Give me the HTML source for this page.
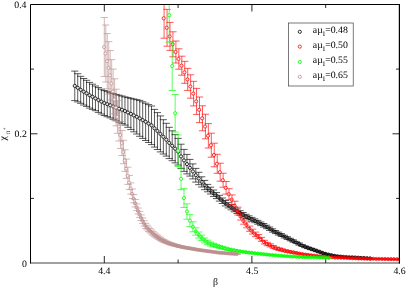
<!DOCTYPE html>
<html><head><meta charset="utf-8"><style>
html,body{margin:0;padding:0;background:#fff;}
svg{display:block}
text{font-family:"Liberation Serif",serif;font-size:9.8px;fill:#000;text-rendering:geometricPrecision}
.t{filter:grayscale(1)}
</style></head><body>
<svg width="407" height="289" viewBox="0 0 407 289">
<rect width="407" height="289" fill="#fff"/>
<defs><clipPath id="c"><rect x="30.5" y="4.5" width="369" height="258.5"/></clipPath></defs>
<g clip-path="url(#c)">
<g stroke="#000" fill="none" stroke-width="0.65">
<path d="M74.78 71.1V100.6M71.18 71.1H78.38M71.18 100.6H78.38M77.73 73.7V101.9M74.13 73.7H81.33M74.13 101.9H81.33M80.68 76.3V103.3M77.08 76.3H84.28M77.08 103.3H84.28M83.64 78.5V105.0M80.04 78.5H87.24M80.04 105.0H87.24M86.59 80.3V106.4M82.99 80.3H90.19M82.99 106.4H90.19M89.54 82.4V108.1M85.94 82.4H93.14M85.94 108.1H93.14M92.49 84.2V109.4M88.89 84.2H96.09M88.89 109.4H96.09M95.44 86.0V110.7M91.84 86.0H99.04M91.84 110.7H99.04M98.40 87.6V112.4M94.80 87.6H102.00M94.80 112.4H102.00M101.35 89.2V114.0M97.75 89.2H104.95M97.75 114.0H104.95M104.30 90.5V115.5M100.70 90.5H107.90M100.70 115.5H107.90M107.25 91.6V116.7M103.65 91.6H110.85M103.65 116.7H110.85M110.20 92.7V117.9M106.60 92.7H113.80M106.60 117.9H113.80M113.16 93.5V119.3M109.56 93.5H116.76M109.56 119.3H116.76M116.11 94.4V120.8M112.51 94.4H119.71M112.51 120.8H119.71M119.06 95.2V122.2M115.46 95.2H122.66M115.46 122.2H122.66M122.01 96.0V123.6M118.41 96.0H125.61M118.41 123.6H125.61M124.96 96.9V125.1M121.36 96.9H128.56M121.36 125.1H128.56M127.92 97.6V127.3M124.32 97.6H131.52M124.32 127.3H131.52M130.87 98.3V129.6M127.27 98.3H134.47M127.27 129.6H134.47M133.82 99.0V131.8M130.22 99.0H137.42M130.22 131.8H137.42M136.77 99.7V134.0M133.17 99.7H140.37M133.17 134.0H140.37M139.72 100.4V136.3M136.12 100.4H143.32M136.12 136.3H143.32M142.68 101.8V138.4M139.08 101.8H146.28M139.08 138.4H146.28M145.63 103.2V140.5M142.03 103.2H149.23M142.03 140.5H149.23M148.58 104.6V142.5M144.98 104.6H152.18M144.98 142.5H152.18M151.53 106.0V144.6M147.93 106.0H155.13M147.93 144.6H155.13M154.48 109.4V147.1M150.88 109.4H158.08M150.88 147.1H158.08M157.44 112.6V149.5M153.84 112.6H161.04M153.84 149.5H161.04M160.39 115.9V151.9M156.79 115.9H163.99M156.79 151.9H163.99M163.34 119.7V154.0M159.74 119.7H166.94M159.74 154.0H166.94M166.29 123.3V156.1M162.69 123.3H169.89M162.69 156.1H169.89M169.24 127.3V158.6M165.64 127.3H172.84M165.64 158.6H172.84M172.20 130.8V160.7M168.60 130.8H175.80M168.60 160.7H175.80M175.15 134.6V162.9M171.55 134.6H178.75M171.55 162.9H178.75M178.10 138.4V165.0M174.50 138.4H181.70M174.50 165.0H181.70M181.05 144.2V168.6M177.45 144.2H184.65M177.45 168.6H184.65M184.00 149.4V171.4M180.40 149.4H187.60M180.40 171.4H187.60M186.96 154.4V173.9M183.36 154.4H190.56M183.36 173.9H190.56M189.91 159.4V176.1M186.31 159.4H193.51M186.31 176.1H193.51M192.86 163.9V178.9M189.26 163.9H196.46M189.26 178.9H196.46M195.81 168.4V182.1M192.21 168.4H199.41M192.21 182.1H199.41M198.76 172.3V184.7M195.16 172.3H202.36M195.16 184.7H202.36M201.72 176.8V187.0M198.12 176.8H205.32M198.12 187.0H205.32M204.67 180.4V189.7M201.07 180.4H208.27M201.07 189.7H208.27M207.62 184.4V191.8M204.02 184.4H211.22M204.02 191.8H211.22M210.57 187.2V194.0M206.97 187.2H214.17M206.97 194.0H214.17M213.52 190.0V196.4M209.92 190.0H217.12M209.92 196.4H217.12M216.48 192.6V198.6M212.88 192.6H220.08M212.88 198.6H220.08M219.43 195.3V201.1M215.83 195.3H223.03M215.83 201.1H223.03M222.38 198.0V203.5M218.78 198.0H225.98M218.78 203.5H225.98M225.33 200.5V205.9M221.73 200.5H228.93M221.73 205.9H228.93M228.28 202.7V207.9M224.68 202.7H231.88M224.68 207.9H231.88M231.24 204.9V209.8M227.64 204.9H234.84M227.64 209.8H234.84M234.19 207.1V211.8M230.59 207.1H237.79M230.59 211.8H237.79M237.14 208.9V213.5M233.54 208.9H240.74M233.54 213.5H240.74M240.09 210.7V215.2M236.49 210.7H243.69M236.49 215.2H243.69M243.04 212.5V216.8M239.44 212.5H246.64M239.44 216.8H246.64M246.00 214.3V218.5M242.40 214.3H249.60M242.40 218.5H249.60M248.95 215.8V219.9M245.35 215.8H252.55M245.35 219.9H252.55M251.90 217.4V221.3M248.30 217.4H255.50M248.30 221.3H255.50M254.85 218.9V222.7M251.25 218.9H258.45M251.25 222.7H258.45M257.80 220.4V224.2M254.20 220.4H261.40M254.20 224.2H261.40M260.76 222.0V225.6M257.16 222.0H264.36M257.16 225.6H264.36M263.71 223.5V227.1M260.11 223.5H267.31M260.11 227.1H267.31M266.66 225.2V228.7M263.06 225.2H270.26M263.06 228.7H270.26M269.61 227.0V230.4M266.01 227.0H273.21M266.01 230.4H273.21M272.56 228.8V232.1M268.96 228.8H276.16M268.96 232.1H276.16M275.52 230.5V233.6M271.92 230.5H279.12M271.92 233.6H279.12M278.47 232.1V235.1M274.87 232.1H282.07M274.87 235.1H282.07M281.42 233.6V236.5M277.82 233.6H285.02M277.82 236.5H285.02M284.37 235.2V238.0M280.77 235.2H287.97M280.77 238.0H287.97M287.32 236.7V239.4M283.72 236.7H290.92M283.72 239.4H290.92M290.28 238.3V240.8M286.68 238.3H293.88M286.68 240.8H293.88M293.23 239.8V242.2M289.63 239.8H296.83M289.63 242.2H296.83M296.18 241.4V243.6M292.58 241.4H299.78M292.58 243.6H299.78M299.13 242.9V245.1M295.53 242.9H302.73M295.53 245.1H302.73M302.08 244.5V246.5M298.48 244.5H305.68M298.48 246.5H305.68M305.04 245.9V247.7M301.44 245.9H308.64M301.44 247.7H308.64M307.99 247.0V248.7M304.39 247.0H311.59M304.39 248.7H311.59M310.94 248.1V249.7M307.34 248.1H314.54M307.34 249.7H314.54M313.89 249.1V250.7M310.29 249.1H317.49M310.29 250.7H317.49M316.84 250.2V251.7M313.24 250.2H320.44M313.24 251.7H320.44M319.80 251.3V252.8M316.20 251.3H323.40M316.20 252.8H323.40M322.75 252.4V253.8M319.15 252.4H326.35M319.15 253.8H326.35M325.70 253.3V254.6M322.10 253.3H329.30M322.10 254.6H329.30M328.65 254.0V255.3M325.05 254.0H332.25M325.05 255.3H332.25M331.60 254.7V255.9M328.00 254.7H335.20M328.00 255.9H335.20M334.56 255.3V256.5M330.96 255.3H338.16M330.96 256.5H338.16M337.51 255.8V256.9M333.91 255.8H341.11M333.91 256.9H341.11M340.46 256.1V257.1M336.86 256.1H344.06M336.86 257.1H344.06M343.41 256.4V257.4M339.81 256.4H347.01M339.81 257.4H347.01M346.36 256.5V257.5M342.76 256.5H349.96M342.76 257.5H349.96M349.32 256.7V257.6M345.72 256.7H352.92M345.72 257.6H352.92M352.27 256.9V257.8M348.67 256.9H355.87M348.67 257.8H355.87M355.22 257.1V258.0M351.62 257.1H358.82M351.62 258.0H358.82M358.17 257.2V258.1M354.57 257.2H361.77M354.57 258.1H361.77M361.12 257.4V258.3M357.52 257.4H364.72M357.52 258.3H364.72M364.08 257.6V258.5M360.48 257.6H367.68M360.48 258.5H367.68M367.03 257.8V258.6M363.43 257.8H370.63M363.43 258.6H370.63M369.98 258.0V258.8M366.38 258.0H373.58M366.38 258.8H373.58"/>
<circle cx="74.78" cy="85.9" r="1.60" fill="#fff" fill-opacity="0.80" stroke-width="0.8"/>
<circle cx="77.73" cy="87.8" r="1.60" fill="#fff" fill-opacity="0.80" stroke-width="0.8"/>
<circle cx="80.68" cy="89.8" r="1.60" fill="#fff" fill-opacity="0.80" stroke-width="0.8"/>
<circle cx="83.64" cy="91.7" r="1.60" fill="#fff" fill-opacity="0.80" stroke-width="0.8"/>
<circle cx="86.59" cy="93.3" r="1.60" fill="#fff" fill-opacity="0.80" stroke-width="0.8"/>
<circle cx="89.54" cy="95.2" r="1.60" fill="#fff" fill-opacity="0.80" stroke-width="0.8"/>
<circle cx="92.49" cy="96.8" r="1.60" fill="#fff" fill-opacity="0.80" stroke-width="0.8"/>
<circle cx="95.44" cy="98.4" r="1.60" fill="#fff" fill-opacity="0.80" stroke-width="0.8"/>
<circle cx="98.40" cy="100.0" r="1.60" fill="#fff" fill-opacity="0.80" stroke-width="0.8"/>
<circle cx="101.35" cy="101.6" r="1.60" fill="#fff" fill-opacity="0.80" stroke-width="0.8"/>
<circle cx="104.30" cy="103.0" r="1.60" fill="#fff" fill-opacity="0.80" stroke-width="0.8"/>
<circle cx="107.25" cy="104.1" r="1.60" fill="#fff" fill-opacity="0.80" stroke-width="0.8"/>
<circle cx="110.20" cy="105.3" r="1.60" fill="#fff" fill-opacity="0.80" stroke-width="0.8"/>
<circle cx="113.16" cy="106.4" r="1.60" fill="#fff" fill-opacity="0.80" stroke-width="0.8"/>
<circle cx="116.11" cy="107.6" r="1.60" fill="#fff" fill-opacity="0.80" stroke-width="0.8"/>
<circle cx="119.06" cy="108.7" r="1.60" fill="#fff" fill-opacity="0.80" stroke-width="0.8"/>
<circle cx="122.01" cy="109.8" r="1.60" fill="#fff" fill-opacity="0.80" stroke-width="0.8"/>
<circle cx="124.96" cy="111.0" r="1.60" fill="#fff" fill-opacity="0.80" stroke-width="0.8"/>
<circle cx="127.92" cy="112.5" r="1.60" fill="#fff" fill-opacity="0.80" stroke-width="0.8"/>
<circle cx="130.87" cy="113.9" r="1.60" fill="#fff" fill-opacity="0.80" stroke-width="0.8"/>
<circle cx="133.82" cy="115.4" r="1.60" fill="#fff" fill-opacity="0.80" stroke-width="0.8"/>
<circle cx="136.77" cy="116.9" r="1.60" fill="#fff" fill-opacity="0.80" stroke-width="0.8"/>
<circle cx="139.72" cy="118.4" r="1.60" fill="#fff" fill-opacity="0.80" stroke-width="0.8"/>
<circle cx="142.68" cy="120.1" r="1.60" fill="#fff" fill-opacity="0.80" stroke-width="0.8"/>
<circle cx="145.63" cy="121.8" r="1.60" fill="#fff" fill-opacity="0.80" stroke-width="0.8"/>
<circle cx="148.58" cy="123.6" r="1.60" fill="#fff" fill-opacity="0.80" stroke-width="0.8"/>
<circle cx="151.53" cy="125.3" r="1.60" fill="#fff" fill-opacity="0.80" stroke-width="0.8"/>
<circle cx="154.48" cy="128.3" r="1.60" fill="#fff" fill-opacity="0.80" stroke-width="0.8"/>
<circle cx="157.44" cy="131.0" r="1.60" fill="#fff" fill-opacity="0.80" stroke-width="0.8"/>
<circle cx="160.39" cy="133.9" r="1.60" fill="#fff" fill-opacity="0.80" stroke-width="0.8"/>
<circle cx="163.34" cy="136.8" r="1.60" fill="#fff" fill-opacity="0.80" stroke-width="0.8"/>
<circle cx="166.29" cy="139.7" r="1.60" fill="#fff" fill-opacity="0.80" stroke-width="0.8"/>
<circle cx="169.24" cy="142.9" r="1.60" fill="#fff" fill-opacity="0.80" stroke-width="0.8"/>
<circle cx="172.20" cy="145.8" r="1.60" fill="#fff" fill-opacity="0.80" stroke-width="0.8"/>
<circle cx="175.15" cy="148.7" r="1.60" fill="#fff" fill-opacity="0.80" stroke-width="0.8"/>
<circle cx="178.10" cy="151.7" r="1.60" fill="#fff" fill-opacity="0.80" stroke-width="0.8"/>
<circle cx="181.05" cy="156.4" r="1.60" fill="#fff" fill-opacity="0.80" stroke-width="0.8"/>
<circle cx="184.00" cy="160.4" r="1.60" fill="#fff" fill-opacity="0.80" stroke-width="0.8"/>
<circle cx="186.96" cy="164.1" r="1.60" fill="#fff" fill-opacity="0.80" stroke-width="0.8"/>
<circle cx="189.91" cy="167.8" r="1.60" fill="#fff" fill-opacity="0.80" stroke-width="0.8"/>
<circle cx="192.86" cy="171.4" r="1.60" fill="#fff" fill-opacity="0.80" stroke-width="0.8"/>
<circle cx="195.81" cy="175.2" r="1.60" fill="#fff" fill-opacity="0.80" stroke-width="0.8"/>
<circle cx="198.76" cy="178.5" r="1.60" fill="#fff" fill-opacity="0.71" stroke-width="0.8"/>
<circle cx="201.72" cy="181.9" r="1.60" fill="#fff" fill-opacity="0.42" stroke-width="0.8"/>
<circle cx="204.67" cy="185.1" r="1.60" fill="#fff" fill-opacity="0.31" stroke-width="0.8"/>
<circle cx="207.62" cy="188.1" r="1.60" fill="#fff" fill-opacity="0.05" stroke-width="0.8"/>
<circle cx="210.57" cy="190.6" r="1.60" stroke-width="0.8"/>
<circle cx="213.52" cy="193.2" r="1.60" stroke-width="0.8"/>
<circle cx="216.48" cy="195.6" r="1.60" stroke-width="0.8"/>
<circle cx="219.43" cy="198.2" r="1.60" stroke-width="0.8"/>
<circle cx="222.38" cy="200.8" r="1.60" stroke-width="0.8"/>
<circle cx="225.33" cy="203.2" r="1.60" stroke-width="0.8"/>
<circle cx="228.28" cy="205.3" r="1.60" stroke-width="0.8"/>
<circle cx="231.24" cy="207.4" r="1.60" stroke-width="0.8"/>
<circle cx="234.19" cy="209.5" r="1.60" stroke-width="0.8"/>
<circle cx="237.14" cy="211.2" r="1.60" stroke-width="0.8"/>
<circle cx="240.09" cy="212.9" r="1.60" stroke-width="0.8"/>
<circle cx="243.04" cy="214.7" r="1.60" stroke-width="0.8"/>
<circle cx="246.00" cy="216.4" r="1.60" stroke-width="0.8"/>
<circle cx="248.95" cy="217.9" r="1.60" stroke-width="0.8"/>
<circle cx="251.90" cy="219.4" r="1.60" stroke-width="0.8"/>
<circle cx="254.85" cy="220.8" r="1.60" stroke-width="0.8"/>
<circle cx="257.80" cy="222.3" r="1.60" stroke-width="0.8"/>
<circle cx="260.76" cy="223.8" r="1.60" stroke-width="0.8"/>
<circle cx="263.71" cy="225.3" r="1.60" stroke-width="0.8"/>
<circle cx="266.66" cy="227.0" r="1.60" stroke-width="0.8"/>
<circle cx="269.61" cy="228.7" r="1.60" stroke-width="0.8"/>
<circle cx="272.56" cy="230.5" r="1.60" stroke-width="0.8"/>
<circle cx="275.52" cy="232.1" r="1.60" stroke-width="0.8"/>
<circle cx="278.47" cy="233.6" r="1.60" stroke-width="0.8"/>
<circle cx="281.42" cy="235.1" r="1.60" stroke-width="0.8"/>
<circle cx="284.37" cy="236.6" r="1.60" stroke-width="0.8"/>
<circle cx="287.32" cy="238.1" r="1.60" stroke-width="0.8"/>
<circle cx="290.28" cy="239.6" r="1.60" stroke-width="0.8"/>
<circle cx="293.23" cy="241.0" r="1.60" stroke-width="0.8"/>
<circle cx="296.18" cy="242.5" r="1.60" stroke-width="0.8"/>
<circle cx="299.13" cy="244.0" r="1.60" stroke-width="0.8"/>
<circle cx="302.08" cy="245.5" r="1.60" stroke-width="0.8"/>
<circle cx="305.04" cy="246.8" r="1.60" stroke-width="0.8"/>
<circle cx="307.99" cy="247.9" r="1.60" stroke-width="0.8"/>
<circle cx="310.94" cy="248.9" r="1.60" stroke-width="0.8"/>
<circle cx="313.89" cy="249.9" r="1.60" stroke-width="0.8"/>
<circle cx="316.84" cy="251.0" r="1.60" stroke-width="0.8"/>
<circle cx="319.80" cy="252.0" r="1.60" stroke-width="0.8"/>
<circle cx="322.75" cy="253.1" r="1.60" stroke-width="0.8"/>
<circle cx="325.70" cy="254.0" r="1.60" stroke-width="0.8"/>
<circle cx="328.65" cy="254.7" r="1.60" stroke-width="0.8"/>
<circle cx="331.60" cy="255.3" r="1.60" stroke-width="0.8"/>
<circle cx="334.56" cy="255.9" r="1.60" stroke-width="0.8"/>
<circle cx="337.51" cy="256.3" r="1.60" stroke-width="0.8"/>
<circle cx="340.46" cy="256.6" r="1.60" stroke-width="0.8"/>
<circle cx="343.41" cy="256.9" r="1.60" stroke-width="0.8"/>
<circle cx="346.36" cy="257.0" r="1.60" stroke-width="0.8"/>
<circle cx="349.32" cy="257.2" r="1.60" stroke-width="0.8"/>
<circle cx="352.27" cy="257.3" r="1.60" stroke-width="0.8"/>
<circle cx="355.22" cy="257.5" r="1.60" stroke-width="0.8"/>
<circle cx="358.17" cy="257.7" r="1.60" stroke-width="0.8"/>
<circle cx="361.12" cy="257.9" r="1.60" stroke-width="0.8"/>
<circle cx="364.08" cy="258.0" r="1.60" stroke-width="0.8"/>
<circle cx="367.03" cy="258.2" r="1.60" stroke-width="0.8"/>
<circle cx="369.98" cy="258.4" r="1.60" stroke-width="0.8"/>
</g>
<g stroke="#f00" fill="none" stroke-width="0.65">
<path d="M164.09 -1.6V38.2M160.49 -1.6H167.69M160.49 38.2H167.69M167.04 9.4V46.2M163.44 9.4H170.64M163.44 46.2H170.64M169.99 22.4V50.4M166.39 22.4H173.59M166.39 50.4H173.59M172.95 31.8V56.8M169.35 31.8H176.55M169.35 56.8H176.55M175.90 41.0V63.0M172.30 41.0H179.50M172.30 63.0H179.50M178.85 48.8V69.2M175.25 48.8H182.45M175.25 69.2H182.45M181.80 56.2V75.2M178.20 56.2H185.40M178.20 75.2H185.40M184.75 61.3V83.3M181.15 61.3H188.35M181.15 83.3H188.35M187.71 68.4V90.4M184.11 68.4H191.31M184.11 90.4H191.31M190.66 74.8V98.2M187.06 74.8H194.26M187.06 98.2H194.26M193.61 81.3V105.9M190.01 81.3H197.21M190.01 105.9H197.21M196.56 88.4V114.4M192.96 88.4H200.16M192.96 114.4H200.16M199.51 97.0V122.6M195.91 97.0H203.11M195.91 122.6H203.11M202.47 105.8V130.8M198.87 105.8H206.07M198.87 130.8H206.07M205.42 114.2V138.8M201.82 114.2H209.02M201.82 138.8H209.02M208.37 123.6V148.0M204.77 123.6H211.97M204.77 148.0H211.97M211.32 133.2V157.2M207.72 133.2H214.92M207.72 157.2H214.92M214.27 143.2V166.8M210.67 143.2H217.87M210.67 166.8H217.87M217.23 154.3V173.3M213.63 154.3H220.83M213.63 173.3H220.83M220.18 163.2V181.2M216.58 163.2H223.78M216.58 181.2H223.78M223.13 173.2V187.2M219.53 173.2H226.73M219.53 187.2H226.73M226.08 181.5V194.1M222.48 181.5H229.68M222.48 194.1H229.68M229.03 188.7V199.7M225.43 188.7H232.63M225.43 199.7H232.63M231.99 194.9V204.5M228.39 194.9H235.59M228.39 204.5H235.59M234.94 201.2V210.0M231.34 201.2H238.54M231.34 210.0H238.54M237.89 207.2V215.0M234.29 207.2H241.49M234.29 215.0H241.49M240.84 213.0V220.0M237.24 213.0H244.44M237.24 220.0H244.44M243.79 217.8V224.2M240.19 217.8H247.39M240.19 224.2H247.39M246.75 222.0V227.8M243.15 222.0H250.35M243.15 227.8H250.35M249.70 226.1V231.3M246.10 226.1H253.30M246.10 231.3H253.30M252.65 229.2V234.0M249.05 229.2H256.25M249.05 234.0H256.25M255.60 232.1V236.7M252.00 232.1H259.20M252.00 236.7H259.20M258.55 234.5V238.7M254.95 234.5H262.15M254.95 238.7H262.15M261.51 237.4V241.3M257.91 237.4H265.11M257.91 241.3H265.11M264.46 240.3V244.0M260.86 240.3H268.06M260.86 244.0H268.06M267.41 242.3V245.7M263.81 242.3H271.01M263.81 245.7H271.01M270.36 243.8V246.9M266.76 243.8H273.96M266.76 246.9H273.96M273.31 245.5V248.3M269.71 245.5H276.91M269.71 248.3H276.91M276.27 247.0V249.6M272.67 247.0H279.87M272.67 249.6H279.87M279.22 247.9V250.3M275.62 247.9H282.82M275.62 250.3H282.82M282.17 248.9V251.0M278.57 248.9H285.77M278.57 251.0H285.77M285.12 249.8V251.8M281.52 249.8H288.72M281.52 251.8H288.72M288.07 250.5V252.3M284.47 250.5H291.67M284.47 252.3H291.67M291.03 251.1V252.8M287.43 251.1H294.63M287.43 252.8H294.63M293.98 251.8V253.3M290.38 251.8H297.58M290.38 253.3H297.58M296.93 252.4V253.8M293.33 252.4H300.53M293.33 253.8H300.53M299.88 253.1V254.3M296.28 253.1H303.48M296.28 254.3H303.48M302.83 253.6V254.8M299.23 253.6H306.43M299.23 254.8H306.43M305.79 254.0V255.2M302.19 254.0H309.39M302.19 255.2H309.39M308.74 254.4V255.6M305.14 254.4H312.34M305.14 255.6H312.34M311.69 254.8V256.0M308.09 254.8H315.29M308.09 256.0H315.29M314.64 255.2V256.3M311.04 255.2H318.24M311.04 256.3H318.24M317.59 255.6V256.7M313.99 255.6H321.19M313.99 256.7H321.19M320.55 255.9V257.1M316.95 255.9H324.15M316.95 257.1H324.15M323.50 256.3V257.4M319.90 256.3H327.10M319.90 257.4H327.10M326.45 256.5V257.6M322.85 256.5H330.05M322.85 257.6H330.05M329.40 256.7V257.7M325.80 256.7H333.00M325.80 257.7H333.00M332.35 256.8V257.9M328.75 256.8H335.95M328.75 257.9H335.95M335.31 256.9V258.0M331.71 256.9H338.91M331.71 258.0H338.91M338.26 257.1V258.1M334.66 257.1H341.86M334.66 258.1H341.86M341.21 257.2V258.2M337.61 257.2H344.81M337.61 258.2H344.81M344.16 257.3V258.3M340.56 257.3H347.76M340.56 258.3H347.76M347.11 257.4V258.5M343.51 257.4H350.71M343.51 258.5H350.71M350.07 257.6V258.6M346.47 257.6H353.67M346.47 258.6H353.67M353.02 257.7V258.7M349.42 257.7H356.62M349.42 258.7H356.62M355.97 257.8V258.8M352.37 257.8H359.57M352.37 258.8H359.57M358.92 257.9V258.9M355.32 257.9H362.52M355.32 258.9H362.52M361.87 258.0V259.0M358.27 258.0H365.47M358.27 259.0H365.47M364.83 258.1V259.1M361.23 258.1H368.43M361.23 259.1H368.43M367.78 258.2V259.2M364.18 258.2H371.38M364.18 259.2H371.38M370.73 258.3V259.3M367.13 258.3H374.33M367.13 259.3H374.33M373.68 258.4V259.3M370.08 258.4H377.28M370.08 259.3H377.28M376.63 258.5V259.3M373.03 258.5H380.23M373.03 259.3H380.23M379.59 258.5V259.4M375.99 258.5H383.19M375.99 259.4H383.19M382.54 258.6V259.4M378.94 258.6H386.14M378.94 259.4H386.14M385.49 258.6V259.5M381.89 258.6H389.09M381.89 259.5H389.09M388.44 258.7V259.5M384.84 258.7H392.04M384.84 259.5H392.04M391.39 258.7V259.6M387.79 258.7H394.99M387.79 259.6H394.99M394.35 258.8V259.6M390.75 258.8H397.95M390.75 259.6H397.95M397.30 258.8V259.7M393.70 258.8H400.90M393.70 259.7H400.90M400.25 258.9V259.7M396.65 258.9H403.85M396.65 259.7H403.85"/>
<circle cx="163.74" cy="18.3" r="1.60" fill="#fff" fill-opacity="0.80" stroke-width="0.8"/>
<circle cx="166.69" cy="27.8" r="1.60" fill="#fff" fill-opacity="0.80" stroke-width="0.8"/>
<circle cx="169.64" cy="36.4" r="1.60" fill="#fff" fill-opacity="0.80" stroke-width="0.8"/>
<circle cx="172.60" cy="44.3" r="1.60" fill="#fff" fill-opacity="0.80" stroke-width="0.8"/>
<circle cx="175.55" cy="52.0" r="1.60" fill="#fff" fill-opacity="0.80" stroke-width="0.8"/>
<circle cx="178.50" cy="59.0" r="1.60" fill="#fff" fill-opacity="0.80" stroke-width="0.8"/>
<circle cx="181.45" cy="65.7" r="1.60" fill="#fff" fill-opacity="0.80" stroke-width="0.8"/>
<circle cx="184.40" cy="72.3" r="1.60" fill="#fff" fill-opacity="0.80" stroke-width="0.8"/>
<circle cx="187.36" cy="79.4" r="1.60" fill="#fff" fill-opacity="0.80" stroke-width="0.8"/>
<circle cx="190.31" cy="86.5" r="1.60" fill="#fff" fill-opacity="0.80" stroke-width="0.8"/>
<circle cx="193.26" cy="93.6" r="1.60" fill="#fff" fill-opacity="0.80" stroke-width="0.8"/>
<circle cx="196.21" cy="101.4" r="1.60" fill="#fff" fill-opacity="0.80" stroke-width="0.8"/>
<circle cx="199.16" cy="109.8" r="1.60" fill="#fff" fill-opacity="0.80" stroke-width="0.8"/>
<circle cx="202.12" cy="118.3" r="1.60" fill="#fff" fill-opacity="0.80" stroke-width="0.8"/>
<circle cx="205.07" cy="126.5" r="1.60" fill="#fff" fill-opacity="0.80" stroke-width="0.8"/>
<circle cx="208.02" cy="135.8" r="1.60" fill="#fff" fill-opacity="0.80" stroke-width="0.8"/>
<circle cx="210.97" cy="145.2" r="1.60" fill="#fff" fill-opacity="0.80" stroke-width="0.8"/>
<circle cx="213.92" cy="155.0" r="1.60" fill="#fff" fill-opacity="0.80" stroke-width="0.8"/>
<circle cx="216.88" cy="163.8" r="1.60" fill="#fff" fill-opacity="0.80" stroke-width="0.8"/>
<circle cx="219.83" cy="172.2" r="1.60" fill="#fff" fill-opacity="0.80" stroke-width="0.8"/>
<circle cx="222.78" cy="180.2" r="1.60" fill="#fff" fill-opacity="0.80" stroke-width="0.8"/>
<circle cx="225.73" cy="187.8" r="1.60" fill="#fff" fill-opacity="0.76" stroke-width="0.8"/>
<circle cx="228.68" cy="194.2" r="1.60" fill="#fff" fill-opacity="0.53" stroke-width="0.8"/>
<circle cx="231.64" cy="199.7" r="1.60" fill="#fff" fill-opacity="0.35" stroke-width="0.8"/>
<circle cx="234.59" cy="205.6" r="1.60" fill="#fff" fill-opacity="0.23" stroke-width="0.8"/>
<circle cx="237.54" cy="211.1" r="1.60" fill="#fff" fill-opacity="0.11" stroke-width="0.8"/>
<circle cx="240.49" cy="216.5" r="1.60" stroke-width="0.8"/>
<circle cx="243.44" cy="221.0" r="1.60" stroke-width="0.8"/>
<circle cx="246.40" cy="224.9" r="1.60" stroke-width="0.8"/>
<circle cx="249.35" cy="228.7" r="1.60" stroke-width="0.8"/>
<circle cx="252.30" cy="231.6" r="1.60" stroke-width="0.8"/>
<circle cx="255.25" cy="234.4" r="1.60" stroke-width="0.8"/>
<circle cx="258.20" cy="236.6" r="1.60" stroke-width="0.8"/>
<circle cx="261.16" cy="239.4" r="1.60" stroke-width="0.8"/>
<circle cx="264.11" cy="242.2" r="1.60" stroke-width="0.8"/>
<circle cx="267.06" cy="244.0" r="1.60" stroke-width="0.8"/>
<circle cx="270.01" cy="245.3" r="1.60" stroke-width="0.8"/>
<circle cx="272.96" cy="246.9" r="1.60" stroke-width="0.8"/>
<circle cx="275.92" cy="248.3" r="1.60" stroke-width="0.8"/>
<circle cx="278.87" cy="249.1" r="1.60" stroke-width="0.8"/>
<circle cx="281.82" cy="249.9" r="1.60" stroke-width="0.8"/>
<circle cx="284.77" cy="250.8" r="1.60" stroke-width="0.8"/>
<circle cx="287.72" cy="251.4" r="1.60" stroke-width="0.8"/>
<circle cx="290.68" cy="252.0" r="1.60" stroke-width="0.8"/>
<circle cx="293.63" cy="252.6" r="1.60" stroke-width="0.8"/>
<circle cx="296.58" cy="253.1" r="1.60" stroke-width="0.8"/>
<circle cx="299.53" cy="253.7" r="1.60" stroke-width="0.8"/>
<circle cx="302.48" cy="254.2" r="1.60" stroke-width="0.8"/>
<circle cx="305.44" cy="254.6" r="1.60" stroke-width="0.8"/>
<circle cx="308.39" cy="255.0" r="1.60" stroke-width="0.8"/>
<circle cx="311.34" cy="255.4" r="1.60" stroke-width="0.8"/>
<circle cx="314.29" cy="255.7" r="1.60" stroke-width="0.8"/>
<circle cx="317.24" cy="256.1" r="1.60" stroke-width="0.8"/>
<circle cx="320.20" cy="256.5" r="1.60" stroke-width="0.8"/>
<circle cx="323.15" cy="256.9" r="1.60" stroke-width="0.8"/>
<circle cx="326.10" cy="257.1" r="1.60" stroke-width="0.8"/>
<circle cx="329.05" cy="257.2" r="1.60" stroke-width="0.8"/>
<circle cx="332.00" cy="257.3" r="1.60" stroke-width="0.8"/>
<circle cx="334.96" cy="257.5" r="1.60" stroke-width="0.8"/>
<circle cx="337.91" cy="257.6" r="1.60" stroke-width="0.8"/>
<circle cx="340.86" cy="257.7" r="1.60" stroke-width="0.8"/>
<circle cx="343.81" cy="257.8" r="1.60" stroke-width="0.8"/>
<circle cx="346.76" cy="257.9" r="1.60" stroke-width="0.8"/>
<circle cx="349.72" cy="258.1" r="1.60" stroke-width="0.8"/>
<circle cx="352.67" cy="258.2" r="1.60" stroke-width="0.8"/>
<circle cx="355.62" cy="258.3" r="1.60" stroke-width="0.8"/>
<circle cx="358.57" cy="258.4" r="1.60" stroke-width="0.8"/>
<circle cx="361.52" cy="258.5" r="1.60" stroke-width="0.8"/>
<circle cx="364.48" cy="258.6" r="1.60" stroke-width="0.8"/>
<circle cx="367.43" cy="258.7" r="1.60" stroke-width="0.8"/>
<circle cx="370.38" cy="258.8" r="1.60" stroke-width="0.8"/>
<circle cx="373.33" cy="258.8" r="1.60" stroke-width="0.8"/>
<circle cx="376.28" cy="258.9" r="1.60" stroke-width="0.8"/>
<circle cx="379.24" cy="258.9" r="1.60" stroke-width="0.8"/>
<circle cx="382.19" cy="259.0" r="1.60" stroke-width="0.8"/>
<circle cx="385.14" cy="259.0" r="1.60" stroke-width="0.8"/>
<circle cx="388.09" cy="259.1" r="1.60" stroke-width="0.8"/>
<circle cx="391.04" cy="259.1" r="1.60" stroke-width="0.8"/>
<circle cx="394.00" cy="259.2" r="1.60" stroke-width="0.8"/>
<circle cx="396.95" cy="259.2" r="1.60" stroke-width="0.8"/>
<circle cx="399.90" cy="259.3" r="1.60" stroke-width="0.8"/>
</g>
<g stroke="#0f0" fill="none" stroke-width="0.65">
<path d="M169.24 -11.8V42.2M165.64 -11.8H172.84M165.64 42.2H172.84M172.20 41.5V90.5M168.60 41.5H175.80M168.60 90.5H175.80M175.15 94.5V132.1M171.55 94.5H178.75M171.55 132.1H178.75M178.10 134.9V166.5M174.50 134.9H181.70M174.50 166.5H181.70M181.05 167.9V189.7M177.45 167.9H184.65M177.45 189.7H184.65M184.00 188.7V207.5M180.40 188.7H187.60M180.40 207.5H187.60M186.96 203.8V219.2M183.36 203.8H190.56M183.36 219.2H190.56M189.91 214.7V226.7M186.31 214.7H193.51M186.31 226.7H193.51M192.86 221.8V231.8M189.26 221.8H196.46M189.26 231.8H196.46M195.81 227.8V235.2M192.21 227.8H199.41M192.21 235.2H199.41M198.76 232.0V238.0M195.16 232.0H202.36M195.16 238.0H202.36M201.72 235.2V240.6M198.12 235.2H205.32M198.12 240.6H205.32M204.67 238.0V242.9M201.07 238.0H208.27M201.07 242.9H208.27M207.62 240.2V244.6M204.02 240.2H211.22M204.02 244.6H211.22M210.57 242.1V246.0M206.97 242.1H214.17M206.97 246.0H214.17M213.52 243.2V246.8M209.92 243.2H217.12M209.92 246.8H217.12M216.48 244.3V247.6M212.88 244.3H220.08M212.88 247.6H220.08M219.43 245.4V248.3M215.83 245.4H223.03M215.83 248.3H223.03M222.38 246.3V249.0M218.78 246.3H225.98M218.78 249.0H225.98M225.33 247.2V249.7M221.73 247.2H228.93M221.73 249.7H228.93M228.28 248.1V250.4M224.68 248.1H231.88M224.68 250.4H231.88M231.24 248.9V251.0M227.64 248.9H234.84M227.64 251.0H234.84M234.19 249.5V251.3M230.59 249.5H237.79M230.59 251.3H237.79M237.14 250.1V251.7M233.54 250.1H240.74M233.54 251.7H240.74M240.09 250.7V252.1M236.49 250.7H243.69M236.49 252.1H243.69M243.04 251.1V252.5M239.44 251.1H246.64M239.44 252.5H246.64M246.00 251.5V252.9M242.40 251.5H249.60M242.40 252.9H249.60M248.95 251.9V253.3M245.35 251.9H252.55M245.35 253.3H252.55M251.90 252.3V253.6M248.30 252.3H255.50M248.30 253.6H255.50M254.85 252.6V253.9M251.25 252.6H258.45M251.25 253.9H258.45M257.80 253.0V254.2M254.20 253.0H261.40M254.20 254.2H261.40M260.76 253.3V254.5M257.16 253.3H264.36M257.16 254.5H264.36M263.71 253.6V254.8M260.11 253.6H267.31M260.11 254.8H267.31M266.66 253.9V255.2M263.06 253.9H270.26M263.06 255.2H270.26M269.61 254.3V255.5M266.01 254.3H273.21M266.01 255.5H273.21M272.56 254.5V255.7M268.96 254.5H276.16M268.96 255.7H276.16M275.52 254.8V255.9M271.92 254.8H279.12M271.92 255.9H279.12M278.47 255.0V256.1M274.87 255.0H282.07M274.87 256.1H282.07M281.42 255.3V256.4M277.82 255.3H285.02M277.82 256.4H285.02M284.37 255.5V256.6M280.77 255.5H287.97M280.77 256.6H287.97M287.32 255.7V256.8M283.72 255.7H290.92M283.72 256.8H290.92M290.28 255.9V256.9M286.68 255.9H293.88M286.68 256.9H293.88M293.23 256.0V257.1M289.63 256.0H296.83M289.63 257.1H296.83M296.18 256.2V257.3M292.58 256.2H299.78M292.58 257.3H299.78M299.13 256.4V257.4M295.53 256.4H302.73M295.53 257.4H302.73M302.08 256.5V257.5M298.48 256.5H305.68M298.48 257.5H305.68M305.04 256.6V257.6M301.44 256.6H308.64M301.44 257.6H308.64M307.99 256.7V257.7M304.39 256.7H311.59M304.39 257.7H311.59M310.94 256.8V257.7M307.34 256.8H314.54M307.34 257.7H314.54M313.89 256.9V257.8M310.29 256.9H317.49M310.29 257.8H317.49M316.84 257.0V257.9M313.24 257.0H320.44M313.24 257.9H320.44M319.80 257.1V258.0M316.20 257.1H323.40M316.20 258.0H323.40M322.75 257.2V258.1M319.15 257.2H326.35M319.15 258.1H326.35M325.70 257.3V258.2M322.10 257.3H329.30M322.10 258.2H329.30M328.65 257.5V258.3M325.05 257.5H332.25M325.05 258.3H332.25"/>
<circle cx="169.24" cy="15.2" r="1.60" fill="#fff" fill-opacity="0.80" stroke-width="0.8"/>
<circle cx="172.20" cy="66.0" r="1.60" fill="#fff" fill-opacity="0.80" stroke-width="0.8"/>
<circle cx="175.15" cy="113.3" r="1.60" fill="#fff" fill-opacity="0.80" stroke-width="0.8"/>
<circle cx="178.10" cy="150.7" r="1.60" fill="#fff" fill-opacity="0.80" stroke-width="0.8"/>
<circle cx="181.05" cy="178.8" r="1.60" fill="#fff" fill-opacity="0.80" stroke-width="0.8"/>
<circle cx="184.00" cy="198.1" r="1.60" fill="#fff" fill-opacity="0.80" stroke-width="0.8"/>
<circle cx="186.96" cy="211.5" r="1.60" fill="#fff" fill-opacity="0.80" stroke-width="0.8"/>
<circle cx="189.91" cy="220.7" r="1.60" fill="#fff" fill-opacity="0.67" stroke-width="0.8"/>
<circle cx="192.86" cy="226.8" r="1.60" fill="#fff" fill-opacity="0.39" stroke-width="0.8"/>
<circle cx="195.81" cy="231.5" r="1.60" fill="#fff" fill-opacity="0.05" stroke-width="0.8"/>
<circle cx="198.76" cy="235.0" r="1.60" stroke-width="0.8"/>
<circle cx="201.72" cy="237.9" r="1.60" stroke-width="0.8"/>
<circle cx="204.67" cy="240.4" r="1.60" stroke-width="0.8"/>
<circle cx="207.62" cy="242.4" r="1.60" stroke-width="0.8"/>
<circle cx="210.57" cy="244.0" r="1.60" stroke-width="0.8"/>
<circle cx="213.52" cy="245.0" r="1.60" stroke-width="0.8"/>
<circle cx="216.48" cy="245.9" r="1.60" stroke-width="0.8"/>
<circle cx="219.43" cy="246.9" r="1.60" stroke-width="0.8"/>
<circle cx="222.38" cy="247.7" r="1.60" stroke-width="0.8"/>
<circle cx="225.33" cy="248.5" r="1.60" stroke-width="0.8"/>
<circle cx="228.28" cy="249.3" r="1.60" stroke-width="0.8"/>
<circle cx="231.24" cy="250.0" r="1.60" stroke-width="0.8"/>
<circle cx="234.19" cy="250.4" r="1.60" stroke-width="0.8"/>
<circle cx="237.14" cy="250.9" r="1.60" stroke-width="0.8"/>
<circle cx="240.09" cy="251.4" r="1.60" stroke-width="0.8"/>
<circle cx="243.04" cy="251.8" r="1.60" stroke-width="0.8"/>
<circle cx="246.00" cy="252.2" r="1.60" stroke-width="0.8"/>
<circle cx="248.95" cy="252.6" r="1.60" stroke-width="0.8"/>
<circle cx="251.90" cy="252.9" r="1.60" stroke-width="0.8"/>
<circle cx="254.85" cy="253.3" r="1.60" stroke-width="0.8"/>
<circle cx="257.80" cy="253.6" r="1.60" stroke-width="0.8"/>
<circle cx="260.76" cy="253.9" r="1.60" stroke-width="0.8"/>
<circle cx="263.71" cy="254.2" r="1.60" stroke-width="0.8"/>
<circle cx="266.66" cy="254.5" r="1.60" stroke-width="0.8"/>
<circle cx="269.61" cy="254.9" r="1.60" stroke-width="0.8"/>
<circle cx="272.56" cy="255.1" r="1.60" stroke-width="0.8"/>
<circle cx="275.52" cy="255.3" r="1.60" stroke-width="0.8"/>
<circle cx="278.47" cy="255.6" r="1.60" stroke-width="0.8"/>
<circle cx="281.42" cy="255.8" r="1.60" stroke-width="0.8"/>
<circle cx="284.37" cy="256.0" r="1.60" stroke-width="0.8"/>
<circle cx="287.32" cy="256.2" r="1.60" stroke-width="0.8"/>
<circle cx="290.28" cy="256.4" r="1.60" stroke-width="0.8"/>
<circle cx="293.23" cy="256.6" r="1.60" stroke-width="0.8"/>
<circle cx="296.18" cy="256.7" r="1.60" stroke-width="0.8"/>
<circle cx="299.13" cy="256.9" r="1.60" stroke-width="0.8"/>
<circle cx="302.08" cy="257.0" r="1.60" stroke-width="0.8"/>
<circle cx="305.04" cy="257.1" r="1.60" stroke-width="0.8"/>
<circle cx="307.99" cy="257.2" r="1.60" stroke-width="0.8"/>
<circle cx="310.94" cy="257.3" r="1.60" stroke-width="0.8"/>
<circle cx="313.89" cy="257.4" r="1.60" stroke-width="0.8"/>
<circle cx="316.84" cy="257.5" r="1.60" stroke-width="0.8"/>
<circle cx="319.80" cy="257.6" r="1.60" stroke-width="0.8"/>
<circle cx="322.75" cy="257.7" r="1.60" stroke-width="0.8"/>
<circle cx="325.70" cy="257.8" r="1.60" stroke-width="0.8"/>
<circle cx="328.65" cy="257.9" r="1.60" stroke-width="0.8"/>
</g>
<g stroke="#bc8f8f" fill="none" stroke-width="0.65">
<path d="M104.30 17.5V76.5M100.70 17.5H107.90M100.70 76.5H107.90M105.78 25.0V82.0M102.18 25.0H109.38M102.18 82.0H109.38M107.25 33.6V88.8M103.65 33.6H110.85M103.65 88.8H110.85M108.73 41.7V94.1M105.13 41.7H112.33M105.13 94.1H112.33M110.20 50.6V100.0M106.60 50.6H113.80M106.60 100.0H113.80M111.68 59.6V107.4M108.08 59.6H115.28M108.08 107.4H115.28M113.16 69.1V113.9M109.56 69.1H116.76M109.56 113.9H116.76M114.63 78.8V120.2M111.03 78.8H118.23M111.03 120.2H118.23M116.11 89.2V125.8M112.51 89.2H119.71M112.51 125.8H119.71M117.58 100.7V133.3M113.98 100.7H121.18M113.98 133.3H121.18M119.06 112.0V141.0M115.46 112.0H122.66M115.46 141.0H122.66M120.54 121.5V148.5M116.94 121.5H124.14M116.94 148.5H124.14M122.01 130.5V155.5M118.41 130.5H125.61M118.41 155.5H125.61M123.49 140.3V163.7M119.89 140.3H127.09M119.89 163.7H127.09M124.96 149.8V171.4M121.36 149.8H128.56M121.36 171.4H128.56M126.44 159.0V178.4M122.84 159.0H130.04M122.84 178.4H130.04M127.92 167.2V184.4M124.32 167.2H131.52M124.32 184.4H131.52M129.39 175.4V189.6M125.79 175.4H132.99M125.79 189.6H132.99M130.87 182.9V194.1M127.27 182.9H134.47M127.27 194.1H134.47M132.34 189.0V198.6M128.74 189.0H135.94M128.74 198.6H135.94M133.82 194.6V202.8M130.22 194.6H137.42M130.22 202.8H137.42M135.30 199.5V206.9M131.70 199.5H138.90M131.70 206.9H138.90M136.77 204.0V210.6M133.17 204.0H140.37M133.17 210.6H140.37M138.25 208.0V214.0M134.65 208.0H141.85M134.65 214.0H141.85M139.72 211.6V217.4M136.12 211.6H143.32M136.12 217.4H143.32M141.20 214.9V220.5M137.60 214.9H144.80M137.60 220.5H144.80M142.68 218.0V223.4M139.08 218.0H146.28M139.08 223.4H146.28M144.15 220.8V226.0M140.55 220.8H147.75M140.55 226.0H147.75M145.63 223.4V228.4M142.03 223.4H149.23M142.03 228.4H149.23M147.10 225.2V229.9M143.50 225.2H150.70M143.50 229.9H150.70M148.58 227.0V231.5M144.98 227.0H152.18M144.98 231.5H152.18M150.06 228.5V232.8M146.46 228.5H153.66M146.46 232.8H153.66M151.53 230.0V234.1M147.93 230.0H155.13M147.93 234.1H155.13M153.01 231.4V235.3M149.41 231.4H156.61M149.41 235.3H156.61M154.48 232.9V236.6M150.88 232.9H158.08M150.88 236.6H158.08M155.96 234.1V237.6M152.36 234.1H159.56M152.36 237.6H159.56M157.44 235.2V238.6M153.84 235.2H161.04M153.84 238.6H161.04M158.91 236.3V239.5M155.31 236.3H162.51M155.31 239.5H162.51M160.39 237.4V240.5M156.79 237.4H163.99M156.79 240.5H163.99M161.86 238.6V241.4M158.26 238.6H165.46M158.26 241.4H165.46M163.34 239.4V242.1M159.74 239.4H166.94M159.74 242.1H166.94M164.82 240.1V242.7M161.22 240.1H168.42M161.22 242.7H168.42M166.29 240.9V243.3M162.69 240.9H169.89M162.69 243.3H169.89M167.77 241.6V243.8M164.17 241.6H171.37M164.17 243.8H171.37M169.24 242.3V244.4M165.64 242.3H172.84M165.64 244.4H172.84M170.72 242.9V244.9M167.12 242.9H174.32M167.12 244.9H174.32M172.20 243.3V245.3M168.60 243.3H175.80M168.60 245.3H175.80M173.67 243.8V245.7M170.07 243.8H177.27M170.07 245.7H177.27M175.15 244.3V246.1M171.55 244.3H178.75M171.55 246.1H178.75M176.62 244.7V246.5M173.02 244.7H180.22M173.02 246.5H180.22M178.10 245.1V246.9M174.50 245.1H181.70M174.50 246.9H181.70M179.58 245.5V247.2M175.98 245.5H183.18M175.98 247.2H183.18M181.05 245.9V247.5M177.45 245.9H184.65M177.45 247.5H184.65M182.53 246.2V247.8M178.93 246.2H186.13M178.93 247.8H186.13M184.00 246.6V248.1M180.40 246.6H187.60M180.40 248.1H187.60M185.48 246.9V248.4M181.88 246.9H189.08M181.88 248.4H189.08M186.96 247.2V248.6M183.36 247.2H190.56M183.36 248.6H190.56M188.43 247.4V248.8M184.83 247.4H192.03M184.83 248.8H192.03M189.91 247.7V249.0M186.31 247.7H193.51M186.31 249.0H193.51M191.38 247.9V249.2M187.78 247.9H194.98M187.78 249.2H194.98M192.86 248.2V249.5M189.26 248.2H196.46M189.26 249.5H196.46M194.34 248.5V249.7M190.74 248.5H197.94M190.74 249.7H197.94M195.81 248.8V249.9M192.21 248.8H199.41M192.21 249.9H199.41M197.29 249.1V250.2M193.69 249.1H200.89M193.69 250.2H200.89M198.76 249.4V250.4M195.16 249.4H202.36M195.16 250.4H202.36M200.24 249.6V250.6M196.64 249.6H203.84M196.64 250.6H203.84M201.72 249.8V250.8M198.12 249.8H205.32M198.12 250.8H205.32M203.19 250.0V251.0M199.59 250.0H206.79M199.59 251.0H206.79M204.67 250.2V251.2M201.07 250.2H208.27M201.07 251.2H208.27M206.14 250.4V251.4M202.54 250.4H209.74M202.54 251.4H209.74M207.62 250.6V251.6M204.02 250.6H211.22M204.02 251.6H211.22M209.10 250.8V251.8M205.50 250.8H212.70M205.50 251.8H212.70M210.57 251.0V252.0M206.97 251.0H214.17M206.97 252.0H214.17M212.05 251.2V252.2M208.45 251.2H215.65M208.45 252.2H215.65M213.52 251.5V252.4M209.92 251.5H217.12M209.92 252.4H217.12M215.00 251.7V252.6M211.40 251.7H218.60M211.40 252.6H218.60M216.48 251.9V252.8M212.88 251.9H220.08M212.88 252.8H220.08M217.95 252.1V253.0M214.35 252.1H221.55M214.35 253.0H221.55M219.43 252.2V253.1M215.83 252.2H223.03M215.83 253.1H223.03M220.90 252.3V253.2M217.30 252.3H224.50M217.30 253.2H224.50M222.38 252.5V253.3M218.78 252.5H225.98M218.78 253.3H225.98M223.86 252.6V253.5M220.26 252.6H227.46M220.26 253.5H227.46M225.33 252.7V253.6M221.73 252.7H228.93M221.73 253.6H228.93M226.81 252.8V253.7M223.21 252.8H230.41M223.21 253.7H230.41M228.28 252.9V253.8M224.68 252.9H231.88M224.68 253.8H231.88M229.76 253.1V253.9M226.16 253.1H233.36M226.16 253.9H233.36M231.24 253.2V254.0M227.64 253.2H234.84M227.64 254.0H234.84M232.71 253.3V254.1M229.11 253.3H236.31M229.11 254.1H236.31M234.19 253.4V254.2M230.59 253.4H237.79M230.59 254.2H237.79M235.66 253.5V254.3M232.06 253.5H239.26M232.06 254.3H239.26M237.14 253.7V254.5M233.54 253.7H240.74M233.54 254.5H240.74"/>
<circle cx="104.00" cy="47.0" r="1.50" fill="#fff" fill-opacity="0.80" stroke-width="0.8"/>
<circle cx="105.48" cy="53.5" r="1.50" fill="#fff" fill-opacity="0.80" stroke-width="0.8"/>
<circle cx="106.95" cy="61.2" r="1.50" fill="#fff" fill-opacity="0.80" stroke-width="0.8"/>
<circle cx="108.43" cy="67.9" r="1.50" fill="#fff" fill-opacity="0.80" stroke-width="0.8"/>
<circle cx="109.90" cy="75.3" r="1.50" fill="#fff" fill-opacity="0.80" stroke-width="0.8"/>
<circle cx="111.38" cy="83.5" r="1.50" fill="#fff" fill-opacity="0.80" stroke-width="0.8"/>
<circle cx="112.86" cy="91.5" r="1.50" fill="#fff" fill-opacity="0.80" stroke-width="0.8"/>
<circle cx="114.33" cy="99.5" r="1.50" fill="#fff" fill-opacity="0.80" stroke-width="0.8"/>
<circle cx="115.81" cy="107.5" r="1.50" fill="#fff" fill-opacity="0.80" stroke-width="0.8"/>
<circle cx="117.28" cy="117.0" r="1.50" fill="#fff" fill-opacity="0.80" stroke-width="0.8"/>
<circle cx="118.76" cy="126.5" r="1.50" fill="#fff" fill-opacity="0.80" stroke-width="0.8"/>
<circle cx="120.24" cy="135.0" r="1.50" fill="#fff" fill-opacity="0.80" stroke-width="0.8"/>
<circle cx="121.71" cy="143.0" r="1.50" fill="#fff" fill-opacity="0.80" stroke-width="0.8"/>
<circle cx="123.19" cy="152.0" r="1.50" fill="#fff" fill-opacity="0.80" stroke-width="0.8"/>
<circle cx="124.66" cy="160.6" r="1.50" fill="#fff" fill-opacity="0.80" stroke-width="0.8"/>
<circle cx="126.14" cy="168.7" r="1.50" fill="#fff" fill-opacity="0.80" stroke-width="0.8"/>
<circle cx="127.62" cy="175.8" r="1.50" fill="#fff" fill-opacity="0.80" stroke-width="0.8"/>
<circle cx="129.09" cy="182.5" r="1.50" fill="#fff" fill-opacity="0.80" stroke-width="0.8"/>
<circle cx="130.57" cy="188.5" r="1.50" fill="#fff" fill-opacity="0.57" stroke-width="0.8"/>
<circle cx="132.04" cy="193.8" r="1.50" fill="#fff" fill-opacity="0.35" stroke-width="0.8"/>
<circle cx="133.52" cy="198.7" r="1.50" fill="#fff" fill-opacity="0.16" stroke-width="0.8"/>
<circle cx="135.00" cy="203.2" r="1.50" fill="#fff" fill-opacity="0.05" stroke-width="0.8"/>
<circle cx="136.47" cy="207.3" r="1.50" stroke-width="0.8"/>
<circle cx="137.95" cy="211.0" r="1.50" stroke-width="0.8"/>
<circle cx="139.42" cy="214.5" r="1.50" stroke-width="0.8"/>
<circle cx="140.90" cy="217.7" r="1.50" stroke-width="0.8"/>
<circle cx="142.38" cy="220.7" r="1.50" stroke-width="0.8"/>
<circle cx="143.85" cy="223.4" r="1.50" stroke-width="0.8"/>
<circle cx="145.33" cy="225.9" r="1.50" stroke-width="0.8"/>
<circle cx="146.80" cy="227.6" r="1.50" stroke-width="0.8"/>
<circle cx="148.28" cy="229.2" r="1.50" stroke-width="0.8"/>
<circle cx="149.76" cy="230.7" r="1.50" stroke-width="0.8"/>
<circle cx="151.23" cy="232.0" r="1.50" stroke-width="0.8"/>
<circle cx="152.71" cy="233.4" r="1.50" stroke-width="0.8"/>
<circle cx="154.18" cy="234.7" r="1.50" stroke-width="0.8"/>
<circle cx="155.66" cy="235.8" r="1.50" stroke-width="0.8"/>
<circle cx="157.14" cy="236.9" r="1.50" stroke-width="0.8"/>
<circle cx="158.61" cy="237.9" r="1.50" stroke-width="0.8"/>
<circle cx="160.09" cy="239.0" r="1.50" stroke-width="0.8"/>
<circle cx="161.56" cy="240.0" r="1.50" stroke-width="0.8"/>
<circle cx="163.04" cy="240.8" r="1.50" stroke-width="0.8"/>
<circle cx="164.52" cy="241.4" r="1.50" stroke-width="0.8"/>
<circle cx="165.99" cy="242.1" r="1.50" stroke-width="0.8"/>
<circle cx="167.47" cy="242.7" r="1.50" stroke-width="0.8"/>
<circle cx="168.94" cy="243.4" r="1.50" stroke-width="0.8"/>
<circle cx="170.42" cy="243.9" r="1.50" stroke-width="0.8"/>
<circle cx="171.90" cy="244.3" r="1.50" stroke-width="0.8"/>
<circle cx="173.37" cy="244.8" r="1.50" stroke-width="0.8"/>
<circle cx="174.85" cy="245.2" r="1.50" stroke-width="0.8"/>
<circle cx="176.32" cy="245.6" r="1.50" stroke-width="0.8"/>
<circle cx="177.80" cy="246.0" r="1.50" stroke-width="0.8"/>
<circle cx="179.28" cy="246.3" r="1.50" stroke-width="0.8"/>
<circle cx="180.75" cy="246.7" r="1.50" stroke-width="0.8"/>
<circle cx="182.23" cy="247.0" r="1.50" stroke-width="0.8"/>
<circle cx="183.70" cy="247.4" r="1.50" stroke-width="0.8"/>
<circle cx="185.18" cy="247.6" r="1.50" stroke-width="0.8"/>
<circle cx="186.66" cy="247.9" r="1.50" stroke-width="0.8"/>
<circle cx="188.13" cy="248.1" r="1.50" stroke-width="0.8"/>
<circle cx="189.61" cy="248.3" r="1.50" stroke-width="0.8"/>
<circle cx="191.08" cy="248.6" r="1.50" stroke-width="0.8"/>
<circle cx="192.56" cy="248.8" r="1.50" stroke-width="0.8"/>
<circle cx="194.04" cy="249.1" r="1.50" stroke-width="0.8"/>
<circle cx="195.51" cy="249.4" r="1.50" stroke-width="0.8"/>
<circle cx="196.99" cy="249.6" r="1.50" stroke-width="0.8"/>
<circle cx="198.46" cy="249.9" r="1.50" stroke-width="0.8"/>
<circle cx="199.94" cy="250.1" r="1.50" stroke-width="0.8"/>
<circle cx="201.42" cy="250.3" r="1.50" stroke-width="0.8"/>
<circle cx="202.89" cy="250.5" r="1.50" stroke-width="0.8"/>
<circle cx="204.37" cy="250.7" r="1.50" stroke-width="0.8"/>
<circle cx="205.84" cy="250.9" r="1.50" stroke-width="0.8"/>
<circle cx="207.32" cy="251.1" r="1.50" stroke-width="0.8"/>
<circle cx="208.80" cy="251.3" r="1.50" stroke-width="0.8"/>
<circle cx="210.27" cy="251.5" r="1.50" stroke-width="0.8"/>
<circle cx="211.75" cy="251.7" r="1.50" stroke-width="0.8"/>
<circle cx="213.22" cy="251.9" r="1.50" stroke-width="0.8"/>
<circle cx="214.70" cy="252.1" r="1.50" stroke-width="0.8"/>
<circle cx="216.18" cy="252.3" r="1.50" stroke-width="0.8"/>
<circle cx="217.65" cy="252.5" r="1.50" stroke-width="0.8"/>
<circle cx="219.13" cy="252.7" r="1.50" stroke-width="0.8"/>
<circle cx="220.60" cy="252.8" r="1.50" stroke-width="0.8"/>
<circle cx="222.08" cy="252.9" r="1.50" stroke-width="0.8"/>
<circle cx="223.56" cy="253.0" r="1.50" stroke-width="0.8"/>
<circle cx="225.03" cy="253.1" r="1.50" stroke-width="0.8"/>
<circle cx="226.51" cy="253.2" r="1.50" stroke-width="0.8"/>
<circle cx="227.98" cy="253.4" r="1.50" stroke-width="0.8"/>
<circle cx="229.46" cy="253.5" r="1.50" stroke-width="0.8"/>
<circle cx="230.94" cy="253.6" r="1.50" stroke-width="0.8"/>
<circle cx="232.41" cy="253.7" r="1.50" stroke-width="0.8"/>
<circle cx="233.89" cy="253.8" r="1.50" stroke-width="0.8"/>
<circle cx="235.36" cy="253.9" r="1.50" stroke-width="0.8"/>
<circle cx="236.84" cy="254.1" r="1.50" stroke-width="0.8"/>
</g>
</g>
<path d="M104.3 263.0V256.0M104.3 4.5V11.5M178.1 263.0V259.5M178.1 4.5V8.0M251.9 263.0V256.0M251.9 4.5V11.5M325.7 263.0V259.5M325.7 4.5V8.0M30.5 198.4H34.0M399.5 198.4H396.0M30.5 133.8H37.5M399.5 133.8H392.5M30.5 69.1H34.0M399.5 69.1H396.0" stroke="#000" stroke-width="0.85" fill="none"/>
<path d="M30.5 263.4V4.5H400" fill="none" stroke="#000" stroke-width="1"/>
<path d="M399.4 4V263.4" fill="none" stroke="#000" stroke-width="1.2"/>
<path d="M30 263H400" fill="none" stroke="#000" stroke-width="0.75"/>
<!-- legend -->
<rect x="288.5" y="23" width="64.7" height="63" fill="#fff" stroke="#333" stroke-width="0.65"/>
<g fill="none" stroke-width="0.8">
<circle cx="299.8" cy="31.8" r="1.6" stroke="#000"/>
<circle cx="299.8" cy="46.6" r="1.6" stroke="#f00"/>
<circle cx="299.8" cy="62" r="1.6" stroke="#0f0"/>
<circle cx="299.8" cy="76.8" r="1.6" stroke="#bc8f8f"/>
</g>
<g class="t">
<text x="312.8" y="33.3" font-size="10.1">aµ<tspan font-size="7" dy="3.1">I</tspan><tspan dy="-3.1">=0.48</tspan></text>
<text x="312.8" y="48.1" font-size="10.1">aµ<tspan font-size="7" dy="3.1">I</tspan><tspan dy="-3.1">=0.50</tspan></text>
<text x="312.8" y="63.2" font-size="10.1">aµ<tspan font-size="7" dy="3.1">I</tspan><tspan dy="-3.1">=0.55</tspan></text>
<text x="312.8" y="78.0" font-size="10.1">aµ<tspan font-size="7" dy="3.1">I</tspan><tspan dy="-3.1">=0.65</tspan></text>
<!-- axis labels -->
<text x="26.5" y="8" text-anchor="end">0.4</text>
<text x="26.8" y="136.9" text-anchor="end">0.2</text>
<text x="27" y="266.7" text-anchor="end">0</text>
<text x="104.3" y="274.3" text-anchor="middle">4.4</text>
<text x="252.2" y="274" text-anchor="middle">4.5</text>
<text x="399.5" y="274" text-anchor="middle">4.6</text>
<text x="215.4" y="285" text-anchor="middle" font-size="11">β</text>
<g transform="translate(6.2,140.5) rotate(-90)"><text x="0" y="0" font-size="12.5">χ<tspan font-size="7" dy="4" dx="1.8">π</tspan><tspan font-size="5" dy="-4.4" dx="0.6">+</tspan></text></g>
</g>
</svg>
</body></html>
